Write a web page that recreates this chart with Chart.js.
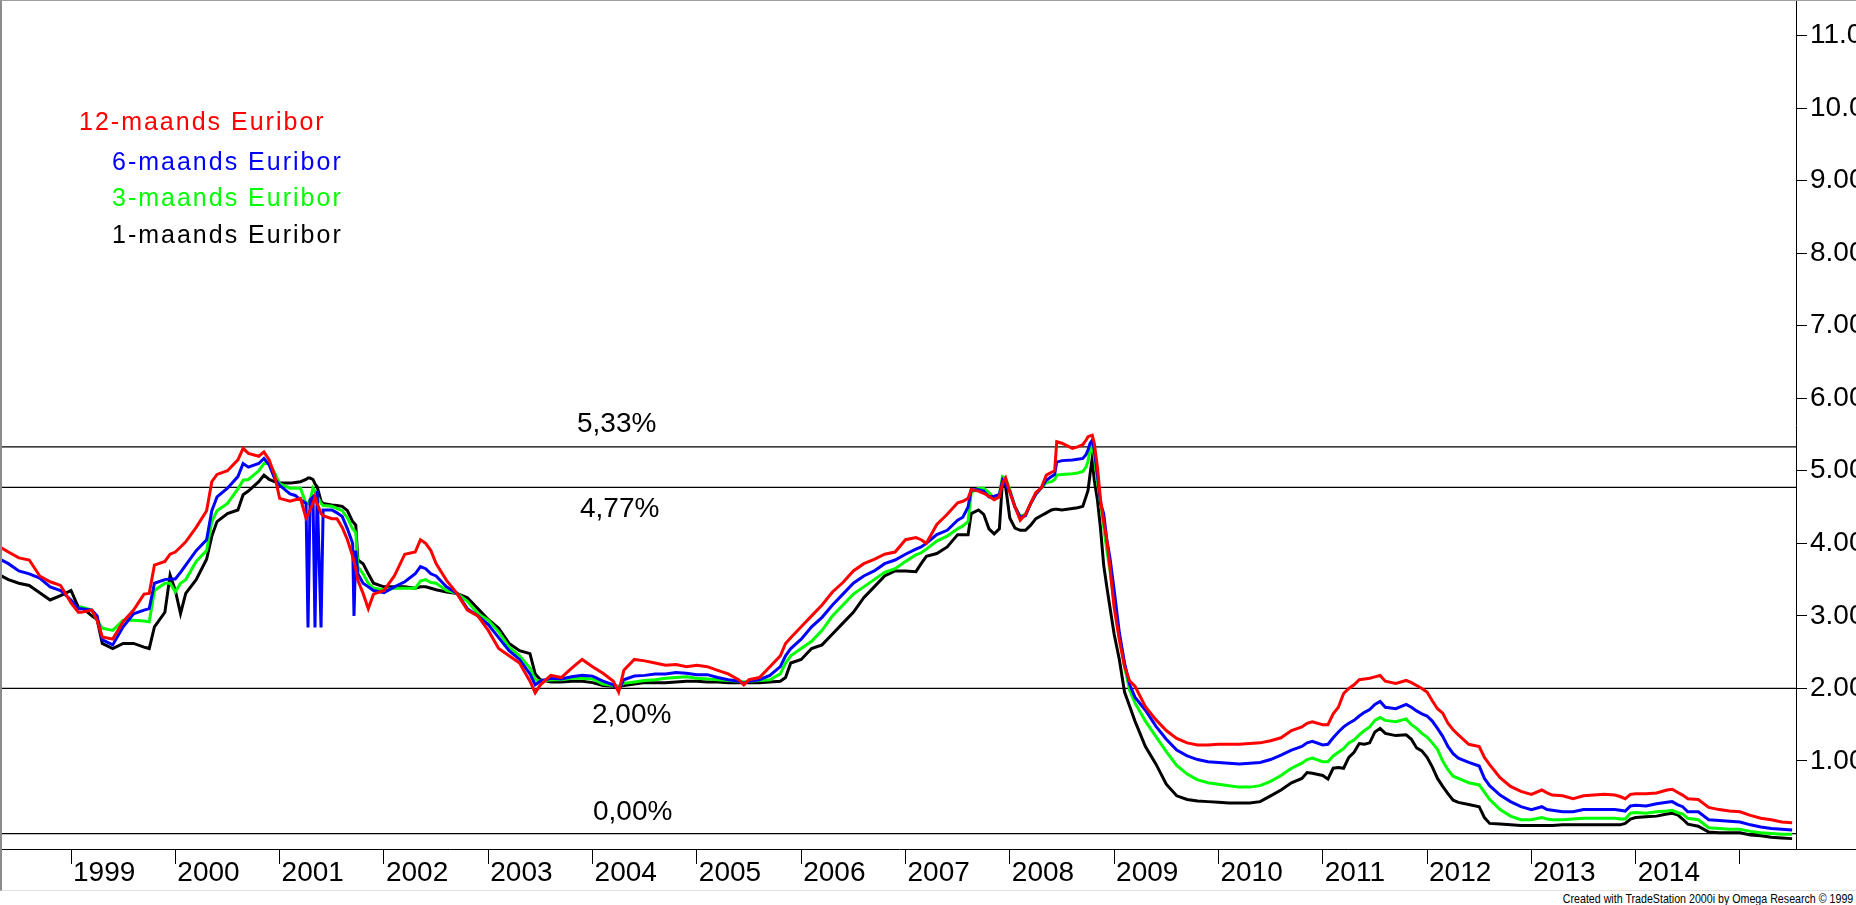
<!DOCTYPE html>
<html>
<head>
<meta charset="utf-8">
<title>Euribor 1998-2015</title>
<script src="https://cdn.jsdelivr.net/npm/chart.js@4.4.1/dist/chart.umd.min.js"></script>
<style>
    html, body { margin: 0; padding: 0; background: #fff; }
    #frame {
        position: absolute; left: 0; top: 0;
        width: 1856px; height: 891px; box-sizing: border-box;
        border-left: 2px solid #8c8c8c;
        border-top: 1px solid #a0a0a0;
        border-bottom: 1px solid #e0e0e0;
    }
    #euriborChart { display: block; }
    #footer {
        position: absolute; top: 892px; right: 3px;
        font: 13px "Liberation Sans", Arial, sans-serif;
        line-height: 13px; color: #000; white-space: nowrap;
        transform: scaleX(0.82); transform-origin: right top;
    }
</style>
</head>
<body>
<div id="frame"><canvas id="euriborChart" width="1854" height="889"></canvas></div>
<div id="footer">Created with TradeStation 2000i by Omega Research © 1999</div>
<script>
// Dates as decimal years
const years = [
    1998.32, 1998.40, 1998.50, 1998.60, 1998.70, 1998.80, 1998.90, 1999.00, 1999.07, 1999.10,
    1999.20, 1999.25, 1999.30, 1999.40, 1999.50, 1999.60, 1999.70, 1999.75, 1999.80, 1999.90,
    1999.95, 2000.00, 2000.05, 2000.10, 2000.20, 2000.30, 2000.35, 2000.40, 2000.50, 2000.60,
    2000.65, 2000.70, 2000.80, 2000.85, 2000.90, 2000.95, 2001.00, 2001.10, 2001.15, 2001.20,
    2001.253, 2001.272, 2001.292, 2001.32, 2001.339, 2001.36, 2001.397, 2001.417, 2001.50, 2001.55,
    2001.60, 2001.65, 2001.70, 2001.713, 2001.73, 2001.75, 2001.80, 2001.85, 2001.90, 2002.00,
    2002.10, 2002.20, 2002.30, 2002.35, 2002.40, 2002.45, 2002.50, 2002.60, 2002.70, 2002.80,
    2002.90, 2003.00, 2003.10, 2003.20, 2003.30, 2003.40, 2003.45, 2003.50, 2003.60, 2003.70,
    2003.80, 2003.90, 2004.00, 2004.10, 2004.20, 2004.25, 2004.30, 2004.40, 2004.50, 2004.60,
    2004.70, 2004.80, 2004.90, 2005.00, 2005.10, 2005.20, 2005.30, 2005.40, 2005.45, 2005.50,
    2005.60, 2005.70, 2005.80, 2005.85, 2005.90, 2006.00, 2006.10, 2006.20, 2006.30, 2006.40,
    2006.50, 2006.60, 2006.70, 2006.80, 2006.90, 2007.00, 2007.10, 2007.15, 2007.20, 2007.30,
    2007.40, 2007.50, 2007.55, 2007.60, 2007.63, 2007.70, 2007.75, 2007.80, 2007.85, 2007.90,
    2007.93, 2007.96, 2008.00, 2008.05, 2008.10, 2008.15, 2008.20, 2008.25, 2008.30, 2008.35,
    2008.40, 2008.43, 2008.45, 2008.50, 2008.60, 2008.65, 2008.70, 2008.73, 2008.75, 2008.77,
    2008.79, 2008.81, 2008.84, 2008.87, 2008.90, 2008.93, 2008.96, 2009.00, 2009.05, 2009.10,
    2009.15, 2009.20, 2009.30, 2009.40, 2009.50, 2009.60, 2009.70, 2009.80, 2009.90, 2010.00,
    2010.10, 2010.20, 2010.30, 2010.40, 2010.50, 2010.60, 2010.70, 2010.80, 2010.85, 2010.90,
    2011.00, 2011.05, 2011.10, 2011.15, 2011.20, 2011.25, 2011.30, 2011.35, 2011.40, 2011.45,
    2011.50, 2011.55, 2011.60, 2011.70, 2011.80, 2011.85, 2011.90, 2011.95, 2012.00, 2012.05,
    2012.10, 2012.15, 2012.20, 2012.25, 2012.30, 2012.40, 2012.50, 2012.55, 2012.60, 2012.70,
    2012.80, 2012.90, 2013.00, 2013.10, 2013.15, 2013.20, 2013.30, 2013.40, 2013.50, 2013.60,
    2013.70, 2013.80, 2013.85, 2013.90, 2013.95, 2014.00, 2014.10, 2014.20, 2014.30, 2014.35,
    2014.40, 2014.45, 2014.50, 2014.60, 2014.70, 2014.80, 2014.90, 2015.00, 2015.10, 2015.20,
    2015.30, 2015.40, 2015.50
];

const euribor12 = [
    3.95, 3.88, 3.80, 3.77, 3.55, 3.47, 3.42, 3.18, 3.05, 3.05,
    3.08, 2.94, 2.71, 2.68, 2.92, 3.08, 3.30, 3.31, 3.70, 3.75,
    3.85, 3.88, 3.95, 4.02, 4.22, 4.45, 4.85, 4.95, 5.00, 5.15,
    5.31, 5.24, 5.20, 5.26, 5.15, 4.95, 4.62, 4.58, 4.60, 4.62,
    4.35, 4.40, 4.46, 4.55, 4.64, 4.55, 4.41, 4.38, 4.34, 4.34,
    4.22, 4.05, 3.82, 3.75, 3.65, 3.49, 3.31, 3.10, 3.30, 3.35,
    3.55, 3.85, 3.88, 4.05, 4.00, 3.90, 3.72, 3.49, 3.31, 3.08,
    3.00, 2.80, 2.55, 2.45, 2.35, 2.10, 1.94, 2.05, 2.18, 2.15,
    2.28, 2.40, 2.30, 2.21, 2.10, 1.95, 2.25, 2.40, 2.38, 2.35,
    2.32, 2.33, 2.30, 2.32, 2.30, 2.25, 2.20, 2.12, 2.05, 2.12,
    2.15, 2.30, 2.45, 2.62, 2.70, 2.85, 3.00, 3.15, 3.33, 3.46,
    3.62, 3.72, 3.78, 3.85, 3.88, 4.05, 4.08, 4.05, 4.00, 4.26,
    4.40, 4.56, 4.58, 4.62, 4.74, 4.72, 4.69, 4.65, 4.60, 4.64,
    4.83, 4.90, 4.70, 4.50, 4.32, 4.40, 4.55, 4.70, 4.76, 4.94,
    4.98, 5.00, 5.40, 5.38, 5.31, 5.33, 5.36, 5.42, 5.47, 5.48,
    5.49, 5.38, 5.05, 4.60, 4.30, 4.05, 3.67, 3.12, 2.67, 2.30,
    2.10, 2.03, 1.75, 1.57, 1.42, 1.31, 1.25, 1.22, 1.22, 1.23,
    1.23, 1.23, 1.24, 1.25, 1.28, 1.32, 1.42, 1.47, 1.52, 1.54,
    1.50, 1.50, 1.65, 1.74, 1.93, 2.00, 2.05, 2.12, 2.13, 2.14,
    2.16, 2.18, 2.10, 2.07, 2.11, 2.08, 2.04, 2.00, 1.95, 1.83,
    1.72, 1.66, 1.52, 1.43, 1.36, 1.23, 1.20, 1.05, 0.95, 0.77,
    0.65, 0.58, 0.54, 0.60, 0.56, 0.53, 0.52, 0.48, 0.52, 0.53,
    0.54, 0.53, 0.51, 0.48, 0.54, 0.55, 0.55, 0.56, 0.60, 0.61,
    0.57, 0.53, 0.48, 0.47, 0.36, 0.33, 0.31, 0.30, 0.25, 0.21,
    0.19, 0.16, 0.15
];

const euribor6 = [
    3.78, 3.72, 3.62, 3.58, 3.52, 3.40, 3.35, 3.22, 3.10, 3.10,
    3.08, 3.00, 2.67, 2.60, 2.85, 3.03, 3.08, 3.10, 3.45, 3.50,
    3.51, 3.51, 3.60, 3.70, 3.90, 4.05, 4.45, 4.64, 4.76, 4.92,
    5.10, 5.05, 5.10, 5.17, 5.08, 4.90, 4.80, 4.68, 4.66, 4.60,
    4.55, 2.84, 4.60, 4.64, 2.84, 4.72, 2.84, 4.46, 4.46, 4.42,
    4.37, 4.20, 4.00, 3.00, 3.90, 3.58, 3.45, 3.40, 3.35, 3.32,
    3.40, 3.47, 3.58, 3.68, 3.65, 3.58, 3.55, 3.40, 3.31, 3.10,
    3.00, 2.88, 2.70, 2.52, 2.40, 2.20, 2.05, 2.10, 2.14, 2.13,
    2.16, 2.18, 2.17, 2.10, 2.05, 1.98, 2.12, 2.17, 2.18, 2.20,
    2.20, 2.22, 2.21, 2.19, 2.19, 2.15, 2.12, 2.10, 2.07, 2.10,
    2.12, 2.18, 2.30, 2.45, 2.55, 2.68, 2.85, 2.98, 3.15, 3.30,
    3.45, 3.55, 3.62, 3.72, 3.77, 3.85, 3.92, 3.95, 4.00, 4.12,
    4.18, 4.32, 4.36, 4.50, 4.74, 4.74, 4.72, 4.64, 4.65, 4.67,
    4.87, 4.80, 4.72, 4.50, 4.36, 4.38, 4.55, 4.68, 4.76, 4.87,
    4.92, 4.95, 5.12, 5.14, 5.15, 5.16, 5.17, 5.22, 5.29, 5.38,
    5.42, 5.29, 4.95, 4.55, 4.41, 4.05, 3.80, 3.36, 2.77, 2.35,
    2.05, 1.88, 1.70, 1.48, 1.30, 1.15, 1.07, 1.02, 0.99, 0.98,
    0.97, 0.96, 0.97, 0.98, 1.02, 1.08, 1.15, 1.20, 1.25, 1.27,
    1.22, 1.23, 1.32, 1.40, 1.47, 1.52, 1.56, 1.62, 1.67, 1.71,
    1.78, 1.82, 1.74, 1.72, 1.78, 1.74, 1.69, 1.65, 1.62, 1.55,
    1.45, 1.34, 1.20, 1.10, 1.04, 0.98, 0.93, 0.76, 0.66, 0.53,
    0.44, 0.37, 0.33, 0.37, 0.33, 0.32, 0.30, 0.30, 0.33, 0.33,
    0.33, 0.33, 0.32, 0.31, 0.38, 0.39, 0.38, 0.41, 0.43, 0.44,
    0.40, 0.37, 0.30, 0.30, 0.19, 0.18, 0.17, 0.16, 0.12, 0.09,
    0.07, 0.06, 0.05
];

const euribor3 = [
    null, null, null, null, null, null, null, null, 3.10, 3.12,
    3.08, 2.94, 2.83, 2.80, 2.94, 2.94, 2.93, 2.92, 3.35, 3.45,
    3.45, 3.33, 3.45, 3.50, 3.75, 3.90, 4.30, 4.45, 4.55, 4.75,
    4.87, 4.88, 5.00, 5.10, 5.10, 4.98, 4.82, 4.76, 4.76, 4.76,
    4.55, 4.55, 4.60, 4.76, 4.72, 4.65, 4.55, 4.52, 4.51, 4.48,
    4.45, 4.35, 4.20, 4.18, 4.15, 3.68, 3.58, 3.45, 3.38, 3.36,
    3.38, 3.38, 3.38, 3.48, 3.50, 3.46, 3.45, 3.35, 3.31, 3.20,
    3.03, 2.94, 2.78, 2.57, 2.45, 2.28, 2.12, 2.10, 2.12, 2.12,
    2.14, 2.14, 2.13, 2.06, 2.04, 2.02, 2.07, 2.09, 2.11, 2.12,
    2.14, 2.15, 2.16, 2.14, 2.13, 2.12, 2.11, 2.10, 2.09, 2.10,
    2.11, 2.12, 2.20, 2.35, 2.45, 2.55, 2.65, 2.80, 3.00, 3.15,
    3.30, 3.40, 3.50, 3.60, 3.65, 3.75, 3.84, 3.87, 3.92, 4.03,
    4.10, 4.20, 4.24, 4.30, 4.70, 4.76, 4.76, 4.70, 4.62, 4.68,
    4.92, 4.90, 4.74, 4.50, 4.37, 4.40, 4.55, 4.68, 4.76, 4.84,
    4.85, 4.88, 4.94, 4.95, 4.96, 4.97, 4.99, 5.05, 5.13, 5.30,
    5.40, 5.20, 4.85, 4.55, 4.23, 3.90, 3.63, 3.17, 2.71, 2.30,
    1.97, 1.80, 1.55, 1.34, 1.13, 0.94, 0.82, 0.74, 0.70, 0.68,
    0.66, 0.64, 0.64, 0.66, 0.72, 0.80, 0.90, 0.97, 1.02, 1.04,
    0.99, 0.99, 1.07, 1.12, 1.17, 1.25, 1.29, 1.36, 1.42, 1.47,
    1.56, 1.60, 1.56, 1.54, 1.58, 1.50, 1.45, 1.38, 1.33, 1.25,
    1.16, 1.00, 0.88, 0.79, 0.76, 0.70, 0.67, 0.57, 0.47, 0.33,
    0.24, 0.19, 0.19, 0.22, 0.20, 0.19, 0.19, 0.20, 0.21, 0.21,
    0.21, 0.21, 0.20, 0.20, 0.28, 0.29, 0.28, 0.30, 0.31, 0.32,
    0.29, 0.27, 0.21, 0.19, 0.08, 0.07, 0.06, 0.06, 0.03, 0.01,
    0.00, -0.01, -0.01
];

const euribor1 = [
    3.56, 3.50, 3.45, 3.42, 3.32, 3.22, 3.28, 3.35, 3.12, 3.12,
    3.00, 2.95, 2.62, 2.55, 2.62, 2.62, 2.57, 2.55, 2.85, 3.05,
    3.56, 3.35, 3.03, 3.31, 3.50, 3.78, 4.10, 4.30, 4.41, 4.46,
    4.67, 4.72, 4.85, 4.94, 4.88, 4.85, 4.83, 4.83, 4.84, 4.85,
    4.88, 4.90, 4.90, 4.88, 4.82, 4.78, 4.58, 4.55, 4.53, 4.52,
    4.51, 4.45, 4.30, 4.28, 4.25, 3.77, 3.72, 3.58, 3.45, 3.40,
    3.40, 3.40, 3.38, 3.40, 3.40, 3.38, 3.36, 3.33, 3.31, 3.25,
    3.10, 2.95, 2.83, 2.62, 2.52, 2.48, 2.20, 2.12, 2.09, 2.09,
    2.10, 2.10, 2.08, 2.04, 2.03, 2.03, 2.04, 2.06, 2.08, 2.08,
    2.08, 2.09, 2.10, 2.10, 2.09, 2.09, 2.08, 2.08, 2.08, 2.08,
    2.08, 2.09, 2.10, 2.15, 2.35, 2.40, 2.55, 2.60, 2.75, 2.90,
    3.05, 3.25, 3.40, 3.55, 3.62, 3.62, 3.61, 3.72, 3.82, 3.86,
    3.95, 4.12, 4.12, 4.12, 4.41, 4.46, 4.40, 4.20, 4.13, 4.20,
    4.87, 4.78, 4.35, 4.21, 4.18, 4.18, 4.25, 4.34, 4.38, 4.42,
    4.46, 4.47, 4.47, 4.46, 4.48, 4.49, 4.51, 4.64, 4.73, 4.96,
    5.17, 4.87, 4.60, 4.20, 3.70, 3.40, 3.12, 2.75, 2.40, 1.95,
    1.75, 1.55, 1.20, 0.96, 0.68, 0.52, 0.47, 0.45, 0.44, 0.43,
    0.42, 0.42, 0.42, 0.44, 0.52, 0.60, 0.70, 0.76, 0.84, 0.83,
    0.80, 0.75, 0.90, 0.91, 0.90, 1.05, 1.12, 1.24, 1.23, 1.25,
    1.40, 1.45, 1.38, 1.35, 1.36, 1.30, 1.18, 1.14, 1.05, 0.92,
    0.76, 0.65, 0.55, 0.46, 0.43, 0.40, 0.37, 0.22, 0.14, 0.13,
    0.12, 0.11, 0.11, 0.11, 0.11, 0.11, 0.12, 0.12, 0.12, 0.12,
    0.12, 0.12, 0.12, 0.14, 0.20, 0.22, 0.23, 0.24, 0.27, 0.28,
    0.26, 0.20, 0.13, 0.10, 0.02, 0.01, 0.01, 0.01, -0.02, -0.03,
    -0.05, -0.06, -0.07
];

const seriesLabels = ['12-maands Euribor', '6-maands Euribor', '3-maands Euribor', '1-maands Euribor'];
const seriesColors = ['#ff0000', '#0000ff', '#00ff00', '#000000'];

// Horizontal reference levels and their captions
const refLevels = [5.33, 4.77, 2.00, 0.00];
const refLabels = ['5,33%', '4,77%', '2,00%', '0,00%'];

// Axis ticks
const yearTicks = [1999, 2000, 2001, 2002, 2003, 2004, 2005, 2006, 2007, 2008, 2009, 2010, 2011, 2012, 2013, 2014, 2015];
const yearLabels = ['1999', '2000', '2001', '2002', '2003', '2004', '2005', '2006', '2007', '2008', '2009', '2010', '2011', '2012', '2013', '2014', ''];
const rateTicks = [1, 2, 3, 4, 5, 6, 7, 8, 9, 10, 11];

// Layout of the hand placed texts (canvas pixels)
const X_MIN = 1998.3385, X_MAX = 2015.537;
const Y_MIN = -0.213, Y_MAX = 11.475;
const legendPos = [[77, 122], [110, 162], [110, 198], [110, 235]];
const refLabelX = [575, 578, 590, 591];
const refLabelDy = [-23, 22, 27, -21];
const FONT = '"Liberation Sans", Arial, sans-serif';

function toPoints(values) {
    return years.map((t, i) => ({ x: t, y: values[i] })).filter(p => p.y !== null);
}

const seriesData = [euribor12, euribor6, euribor3, euribor1];

const datasets = seriesData.map((values, i) => ({
    label: seriesLabels[i],
    data: toPoints(values),
    borderColor: seriesColors[i],
    borderWidth: 3,
    pointRadius: 0,
    tension: 0,
    order: i
}));

refLevels.forEach((level) => {
    datasets.push({
        label: 'ref',
        data: [{ x: X_MIN, y: level }, { x: X_MAX, y: level }],
        borderColor: '#000',
        borderWidth: 1.3,
        pointRadius: 0,
        order: 10
    });
});

// Draws the text legend, the level captions and the full width base line
const annotationPlugin = {
    id: 'annotations',
    afterDatasetsDraw(chart) {
        const { ctx, chartArea, scales } = chart;
        ctx.save();
        ctx.textAlign = 'left';
        ctx.textBaseline = 'middle';

        ctx.font = '25px ' + FONT;
        ctx.letterSpacing = '2px';
        seriesLabels.forEach((label, i) => {
            ctx.fillStyle = seriesColors[i];
            ctx.fillText(label, legendPos[i][0], legendPos[i][1]);
        });

        ctx.letterSpacing = '0px';
        ctx.font = '28px ' + FONT;
        ctx.fillStyle = '#000';
        refLevels.forEach((level, i) => {
            const y = scales.y.getPixelForValue(level) + refLabelDy[i];
            ctx.fillText(refLabels[i], refLabelX[i], y);
        });

        const base = Math.round(chartArea.bottom) + 0.5;
        ctx.strokeStyle = '#000';
        ctx.lineWidth = 1;
        ctx.beginPath();
        ctx.moveTo(chartArea.right, base);
        ctx.lineTo(chart.width, base);
        ctx.stroke();
        ctx.restore();
    }
};

new Chart(document.getElementById('euriborChart'), {
    type: 'line',
    data: { datasets: datasets },
    options: {
        responsive: false,
        animation: false,
        devicePixelRatio: 1,
        events: [],
        layout: { padding: 0 },
        plugins: {
            legend: { display: false },
            tooltip: { enabled: false }
        },
        scales: {
            x: {
                type: 'linear',
                position: 'bottom',
                min: X_MIN,
                max: X_MAX,
                afterBuildTicks: (scale) => {
                    scale.ticks = yearTicks.map(v => ({ value: v }));
                },
                afterFit: (scale) => {
                    scale.height = 41;
                    scale.paddingLeft = 0;
                    scale.paddingRight = 0;
                },
                ticks: {
                    autoSkip: false,
                    maxRotation: 0,
                    align: 'start',
                    labelOffset: 2,
                    padding: -5,
                    color: '#000',
                    font: { family: FONT, size: 28, lineHeight: 1 },
                    callback: (value, index) => yearLabels[index]
                },
                grid: {
                    drawOnChartArea: false,
                    drawTicks: true,
                    tickLength: 15,
                    color: '#000',
                    tickColor: '#000',
                    tickWidth: 1
                },
                border: { display: true, color: '#000', width: 1 }
            },
            y: {
                type: 'linear',
                position: 'right',
                min: Y_MIN,
                max: Y_MAX,
                afterBuildTicks: (scale) => {
                    scale.ticks = rateTicks.map(v => ({ value: v }));
                },
                afterFit: (scale) => {
                    scale.width = 60;
                    scale.paddingTop = 0;
                    scale.paddingBottom = 0;
                },
                ticks: {
                    padding: 3,
                    color: '#000',
                    font: { family: FONT, size: 28, lineHeight: 1 },
                    callback: (value) => value.toFixed(2)
                },
                grid: {
                    drawOnChartArea: false,
                    drawTicks: true,
                    tickLength: 11,
                    color: '#000',
                    tickColor: '#000',
                    tickWidth: 1
                },
                border: { display: true, color: '#000', width: 1 }
            }
        }
    },
    plugins: [annotationPlugin]
});
</script>
</body>
</html>
